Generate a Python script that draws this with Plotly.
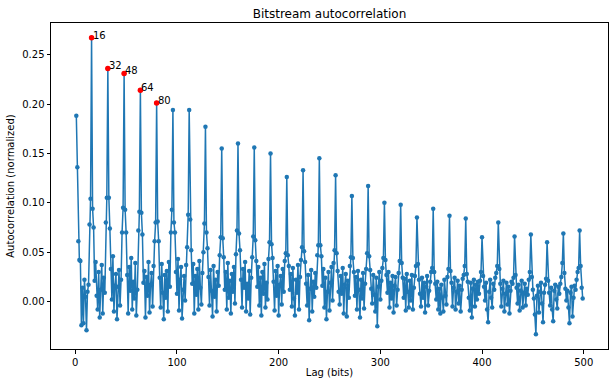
import plotly.graph_objects as go

# Autocorrelation values for lags 1..499 (one row per 16-bit period)
blocks = [
    [0.188, 0.136, 0.061, 0.042, 0.041, -0.024, 0.014, -0.022, 0.022, 0.005, -0.029, 0.010, 0.017, 0.078, 0.104, 0.267],
    [0.094, 0.075, 0.021, 0.040, 0.006, -0.008, 0.030, -0.016, 0.012, 0.037, -0.012, 0.024, 0.009, 0.080, 0.105, 0.236],
    [0.105, 0.074, 0.033, 0.002, 0.046, -0.010, 0.016, 0.028, -0.018, 0.015, 0.032, -0.004, 0.022, 0.070, 0.095, 0.231],
    [0.093, 0.070, 0.027, -0.012, 0.035, 0.011, 0.044, -0.008, 0.020, 0.003, 0.039, -0.014, 0.012, 0.072, 0.091, 0.214],
    [0.090, 0.068, 0.019, 0.031, -0.016, 0.025, 0.006, 0.040, -0.011, 0.017, 0.029, -0.005, 0.036, 0.061, 0.080, 0.201],
    [0.081, 0.061, 0.024, -0.006, 0.038, 0.009, -0.018, 0.027, 0.004, 0.031, -0.010, 0.040, 0.015, 0.070, 0.093, 0.194],
    [0.080, 0.070, 0.030, 0.008, 0.043, -0.009, 0.022, 0.035, -0.017, 0.012, 0.026, 0.001, 0.037, 0.055, 0.088, 0.194],
    [0.083, 0.052, 0.018, 0.038, -0.012, 0.026, 0.007, 0.033, -0.008, 0.041, 0.014, -0.003, 0.029, 0.050, 0.079, 0.177],
    [0.070, 0.054, 0.025, -0.004, 0.032, 0.011, -0.015, 0.036, 0.005, 0.022, -0.010, 0.030, 0.016, 0.047, 0.065, 0.155],
    [0.064, 0.045, 0.012, 0.030, -0.008, 0.039, 0.004, 0.021, -0.012, 0.028, 0.010, 0.035, -0.002, 0.048, 0.072, 0.160],
    [0.069, 0.052, 0.022, -0.006, 0.033, 0.014, 0.040, -0.010, 0.018, 0.003, 0.031, -0.013, 0.024, 0.045, 0.066, 0.156],
    [0.062, 0.041, 0.015, 0.035, -0.004, 0.024, -0.014, 0.030, 0.008, 0.038, -0.006, 0.019, 0.002, 0.043, 0.060, 0.150],
    [0.058, 0.044, 0.020, -0.009, 0.031, 0.006, 0.036, -0.014, 0.017, 0.026, -0.003, 0.033, 0.010, 0.041, 0.049, 0.126],
    [0.047, 0.036, 0.012, 0.028, -0.005, 0.034, 0.003, -0.014, 0.022, 0.009, 0.037, -0.008, 0.025, 0.042, 0.055, 0.133],
    [0.051, 0.040, 0.018, -0.004, 0.027, -0.019, 0.013, 0.032, -0.010, 0.020, 0.005, 0.029, 0.014, 0.047, 0.057, 0.145],
    [0.057, 0.046, 0.016, 0.033, -0.006, 0.024, -0.018, 0.010, 0.030, -0.009, 0.019, 0.035, 0.001, 0.039, 0.052, 0.128],
    [0.049, 0.031, 0.010, -0.003, 0.026, 0.008, 0.034, -0.012, 0.017, 0.028, -0.015, 0.021, 0.004, 0.036, 0.045, 0.107],
    [0.044, 0.030, 0.006, 0.025, -0.008, 0.031, 0.012, -0.016, 0.022, 0.003, 0.029, -0.007, 0.018, 0.033, 0.049, 0.117],
    [0.046, 0.032, 0.013, -0.002, 0.027, 0.007, -0.010, 0.024, -0.025, 0.015, 0.030, 0.002, 0.021, 0.034, 0.044, 0.100],
    [0.042, 0.027, 0.009, 0.030, -0.006, 0.019, 0.003, 0.026, -0.011, 0.016, 0.025, -0.004, 0.012, 0.029, 0.041, 0.098],
    [0.039, 0.024, 0.004, 0.023, -0.009, 0.028, 0.010, -0.006, 0.021, 0.001, 0.027, -0.008, 0.014, 0.026, 0.036, 0.085],
    [0.038, 0.022, 0.008, -0.005, 0.024, 0.004, 0.019, -0.011, 0.015, 0.026, -0.004, 0.011, 0.020, 0.030, 0.034, 0.094],
    [0.030, 0.018, 0.002, 0.020, -0.008, 0.013, -0.012, 0.017, 0.004, -0.010, 0.022, 0.006, -0.003, 0.025, 0.033, 0.087],
    [0.031, 0.019, -0.005, 0.014, 0.024, -0.008, 0.010, 0.021, -0.002, 0.016, -0.010, 0.012, 0.023, 0.027, 0.036, 0.084],
    [0.028, 0.020, 0.004, -0.009, 0.019, -0.016, 0.013, 0.022, -0.005, 0.017, 0.002, 0.020, 0.008, 0.021, 0.030, 0.065],
    [0.026, 0.015, 0.001, 0.019, -0.008, -0.021, 0.010, 0.022, 0.004, -0.006, 0.018, 0.012, 0.024, 0.029, 0.036, 0.080],
    [0.033, 0.018, -0.005, 0.013, 0.021, -0.010, 0.008, 0.019, -0.003, 0.015, -0.012, 0.011, 0.020, 0.018, 0.024, 0.066],
    [0.027, 0.014, -0.002, 0.017, -0.009, 0.011, 0.021, -0.006, 0.009, 0.018, -0.004, 0.013, 0.007, 0.022, 0.030, 0.068],
    [0.025, 0.012, 0.003, -0.013, -0.033, 0.006, 0.016, -0.011, 0.010, 0.019, -0.002, -0.021, 0.009, 0.017, 0.023, 0.060],
    [0.021, 0.009, -0.004, 0.014, -0.008, -0.020, 0.011, 0.017, 0.002, -0.007, 0.015, 0.008, 0.018, 0.025, 0.039, 0.069],
    [0.029, 0.013, 0.001, 0.011, -0.006, -0.022, 0.009, 0.015, -0.015, 0.004, 0.016, 0.012, 0.022, 0.030, 0.034, 0.072],
    [0.036, 0.014, 0.003],
]
autocorr = [v for row in blocks for v in row]
lags = list(range(1, len(autocorr) + 1))

peak_lags = [16, 32, 48, 64, 80]
peak_vals = [autocorr[l - 1] for l in peak_lags]
peak_labels = [str(l) for l in peak_lags]

x_ticks = [0, 100, 200, 300, 400, 500]
y_ticks = [0.00, 0.05, 0.10, 0.15, 0.20, 0.25]

FONT = "DejaVu Sans"
fig = go.Figure()
fig.add_trace(go.Scatter(
    x=lags, y=autocorr, mode="lines+markers",
    line=dict(color="#1f77b4", width=1.5),
    marker=dict(color="#1f77b4", size=4.5),
    showlegend=False,
))
fig.add_trace(go.Scatter(
    x=peak_lags, y=peak_vals, mode="markers",
    marker=dict(color="red", size=5.5),
    showlegend=False,
))
for lx, ly, lt in zip(peak_lags, peak_vals, peak_labels):
    fig.add_annotation(x=lx, y=ly, text=lt, showarrow=False,
                       xanchor="left", yanchor="bottom", xshift=-1, yshift=-5,
                       font=dict(family=FONT, size=10, color="black"))

axis_common = dict(showline=True, linecolor="black", linewidth=1, mirror=True,
                   ticks="outside", ticklen=3.5, tickcolor="black", showgrid=False,
                   zeroline=False, automargin=False,
                   tickfont=dict(family=FONT, size=10, color="black"))
fig.update_xaxes(range=[-23.9, 523.9], tickvals=x_ticks,
                 title=dict(text="Lag (bits)", font=dict(family=FONT, size=10, color="black"), standoff=2),
                 **axis_common)
fig.update_yaxes(range=[-0.048, 0.282], tickvals=y_ticks, tickformat=".2f",
                 title=dict(text="Autocorrelation (normalized)", font=dict(family=FONT, size=10, color="black"), standoff=5),
                 **axis_common)
fig.update_layout(
    width=615, height=387,
    margin=dict(l=51, r=7, t=23, b=38, autoexpand=False),
    paper_bgcolor="white", plot_bgcolor="white",
    title=dict(text="Bitstream autocorrelation", x=0.5, xref="paper", y=1, yref="paper",
               yanchor="bottom", pad=dict(b=5), font=dict(family=FONT, size=12, color="black")),
    font=dict(family=FONT),
)
fig.write_html("out.html", config={"displayModeBar": False},
               post_script="document.body.style.margin='0';document.body.style.overflow='hidden';")
